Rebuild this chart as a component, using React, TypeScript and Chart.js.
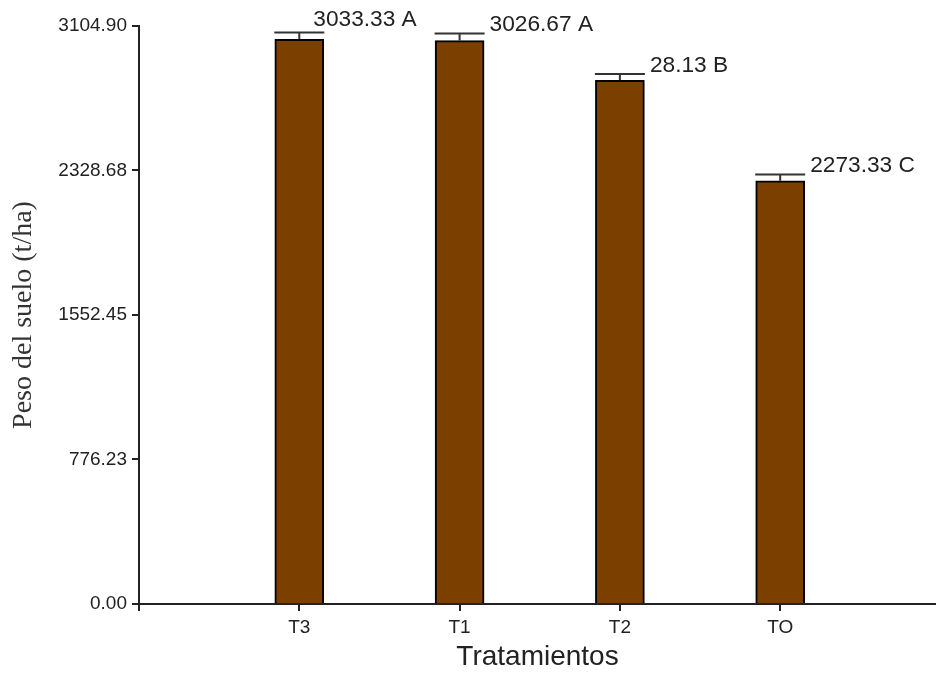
import React, { useEffect, useRef } from 'react';
import { Chart, registerables } from 'chart.js';

Chart.register(...registerables);

// ---- data ----
const categories = ['T3', 'T1', 'T2', 'TO'];
const means = [3033.33, 3026.67, 2813.33, 2273.33];
const errors = [36, 38, 34, 34];
const barLabels = ['3033.33 A', '3026.67 A', '28.13 B', '2273.33 C'];
const yTickValues = [0, 776.23, 1552.45, 2328.68, 3104.9];

// ---- style ----
const SANS = '"Liberation Sans", Arial, Helvetica, sans-serif';
const SERIF = '"Liberation Serif", "Times New Roman", serif';
const BAR_COLOR = '#7B3F00';
const AXIS_COLOR = '#222222';
const LABEL_NUDGE: [number, number][] = [[-16, -5], [0, 0], [0, 0], [0, 0]];

const errorLabelPlugin = {
  id: 'errorLabels',
  afterDatasetsDraw(chart: any) {
    const { ctx } = chart;
    const y = chart.scales.y;
    const meta = chart.getDatasetMeta(0);
    meta.data.forEach((bar: any, i: number) => {
      const cx = bar.x;
      const half = bar.width / 2 + 0.5;
      const top = y.getPixelForValue(means[i]);
      const capY = y.getPixelForValue(means[i] + errors[i]);
      ctx.save();
      ctx.strokeStyle = '#333333';
      ctx.lineWidth = 2;
      ctx.beginPath();
      ctx.moveTo(cx, top);
      ctx.lineTo(cx, capY);
      ctx.moveTo(cx - half, capY);
      ctx.lineTo(cx + half, capY);
      ctx.stroke();
      ctx.font = `22.7px ${SANS}`;
      ctx.fillStyle = '#222222';
      ctx.textAlign = 'left';
      ctx.textBaseline = 'alphabetic';
      ctx.fillText(barLabels[i], cx + half + 5 + LABEL_NUDGE[i][0], capY - 2 + LABEL_NUDGE[i][1]);
      ctx.restore();
    });
  },
};

export default function App() {
  const ref = useRef<HTMLCanvasElement | null>(null);

  useEffect(() => {
    if (!ref.current) return;
    const chart = new Chart(ref.current, {
      type: 'bar',
      data: {
        datasets: [
          {
            data: means.map((m, i) => ({ x: i + 1, y: m })),
            backgroundColor: BAR_COLOR,
            borderColor: '#000000',
            borderWidth: 2,
            barThickness: 49,
          },
        ],
      },
      options: {
        responsive: false,
        maintainAspectRatio: false,
        animation: false,
        layout: { padding: { top: 26, right: 0, bottom: 0, left: 0 } },
        plugins: {
          legend: { display: false },
          tooltip: { enabled: false },
        },
        scales: {
          x: {
            type: 'linear',
            min: 0,
            max: 4.972,
            offset: false,
            afterBuildTicks: (s: any) => {
              s.ticks = [0, 1, 2, 3, 4].map((v) => ({ value: v }));
            },
            afterFit: (s: any) => {
              s.height = 71;
            },
            ticks: {
              autoSkip: false,
              maxRotation: 0,
              padding: 5,
              color: AXIS_COLOR,
              font: { family: SANS, size: 19 },
              callback: (v: any) => categories[Number(v) - 1] ?? '',
            },
            grid: {
              display: true,
              offset: false,
              drawOnChartArea: false,
              drawTicks: true,
              tickLength: 7,
              color: AXIS_COLOR,
              lineWidth: 2,
            },
            border: { display: true, color: AXIS_COLOR, width: 2 },
            title: {
              display: true,
              text: 'Tratamientos',
              color: AXIS_COLOR,
              font: { family: SANS, size: 28 },
              padding: { top: 0, bottom: 1 },
            },
          },
          y: {
            min: 0,
            max: 3104.9,
            afterBuildTicks: (s: any) => {
              s.ticks = yTickValues.map((v) => ({ value: v }));
            },
            afterFit: (s: any) => {
              s.width = 139;
            },
            ticks: {
              padding: 5,
              color: AXIS_COLOR,
              font: { family: SANS, size: 19 },
              callback: (v: any) => Number(v).toFixed(2),
            },
            grid: {
              display: true,
              drawOnChartArea: false,
              drawTicks: true,
              tickLength: 7,
              color: AXIS_COLOR,
              lineWidth: 2,
            },
            border: { display: true, color: AXIS_COLOR, width: 2 },
            title: {
              display: true,
              text: 'Peso del suelo (t/ha)',
              color: '#333333',
              font: { family: SERIF, size: 28 },
              padding: { top: 7, bottom: 0 },
            },
          },
        },
      } as any,
      plugins: [errorLabelPlugin],
    });
    return () => chart.destroy();
  }, []);

  return (
    <div style={{ width: 936, height: 675, overflow: 'hidden', background: '#fff' }}>
      <style>{'body{margin:0;background:#fff;}'}</style>
      <canvas ref={ref} width={936} height={675} style={{ display: 'block' }} />
    </div>
  );
}
